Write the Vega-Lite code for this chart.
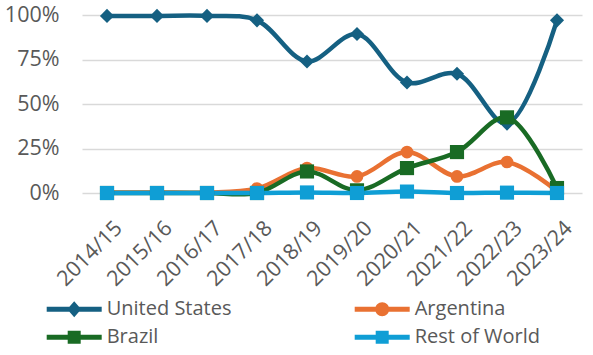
{
  "$schema": "https://vega.github.io/schema/vega-lite/v6.json",
  "autosize": {"type": "none"},
  "padding": {"left": 82, "top": 15, "right": 11, "bottom": 162},
  "width": 500,
  "height": 178,
  "background": "white",
  "config": {
    "view": {"stroke": null},
    "font": "Open Sans"
  },
  "data": {
    "values": [
      {"year": "2014/15", "series": "United States", "share": 0.995},
      {"year": "2015/16", "series": "United States", "share": 0.995},
      {"year": "2016/17", "series": "United States", "share": 0.995},
      {"year": "2017/18", "series": "United States", "share": 0.97},
      {"year": "2018/19", "series": "United States", "share": 0.739},
      {"year": "2019/20", "series": "United States", "share": 0.893},
      {"year": "2020/21", "series": "United States", "share": 0.621},
      {"year": "2021/22", "series": "United States", "share": 0.67},
      {"year": "2022/23", "series": "United States", "share": 0.39},
      {"year": "2023/24", "series": "United States", "share": 0.97},
      {"year": "2014/15", "series": "Argentina", "share": 0.003},
      {"year": "2015/16", "series": "Argentina", "share": 0.003},
      {"year": "2016/17", "series": "Argentina", "share": 0.003},
      {"year": "2017/18", "series": "Argentina", "share": 0.025},
      {"year": "2018/19", "series": "Argentina", "share": 0.14},
      {"year": "2019/20", "series": "Argentina", "share": 0.093},
      {"year": "2020/21", "series": "Argentina", "share": 0.23},
      {"year": "2021/22", "series": "Argentina", "share": 0.093},
      {"year": "2022/23", "series": "Argentina", "share": 0.174},
      {"year": "2023/24", "series": "Argentina", "share": 0.01},
      {"year": "2014/15", "series": "Brazil", "share": 0.0},
      {"year": "2015/16", "series": "Brazil", "share": 0.0},
      {"year": "2016/17", "series": "Brazil", "share": 0.0},
      {"year": "2017/18", "series": "Brazil", "share": 0.0},
      {"year": "2018/19", "series": "Brazil", "share": 0.121},
      {"year": "2019/20", "series": "Brazil", "share": 0.015},
      {"year": "2020/21", "series": "Brazil", "share": 0.14},
      {"year": "2021/22", "series": "Brazil", "share": 0.23},
      {"year": "2022/23", "series": "Brazil", "share": 0.425},
      {"year": "2023/24", "series": "Brazil", "share": 0.028},
      {"year": "2014/15", "series": "Rest of World", "share": 0.0},
      {"year": "2015/16", "series": "Rest of World", "share": 0.0},
      {"year": "2016/17", "series": "Rest of World", "share": 0.0},
      {"year": "2017/18", "series": "Rest of World", "share": 0.0},
      {"year": "2018/19", "series": "Rest of World", "share": 0.003},
      {"year": "2019/20", "series": "Rest of World", "share": 0.0},
      {"year": "2020/21", "series": "Rest of World", "share": 0.008},
      {"year": "2021/22", "series": "Rest of World", "share": 0.0},
      {"year": "2022/23", "series": "Rest of World", "share": 0.002},
      {"year": "2023/24", "series": "Rest of World", "share": 0.0}
    ]
  },
  "encoding": {
    "x": {
      "field": "year",
      "type": "ordinal",
      "sort": null,
      "scale": {"type": "point", "padding": 0.5},
      "axis": {
        "title": null,
        "labelAngle": -45,
        "labelAlign": "right",
        "labelBaseline": "top",
        "labelFontSize": 21.5,
        "labelColor": "#595959",
        "labelPadding": 24,
        "labelOffset": 4,
        "ticks": false,
        "domain": false,
        "grid": false
      }
    },
    "y": {
      "field": "share",
      "type": "quantitative",
      "scale": {"domain": [0, 1], "nice": false},
      "axis": {
        "title": null,
        "values": [0, 0.25, 0.5, 0.75, 1],
        "format": ".0%",
        "labelFontSize": 21.5,
        "labelColor": "#595959",
        "labelPadding": 23,
        "ticks": false,
        "domain": false,
        "grid": true,
        "gridColor": "#d9d9d9",
        "gridWidth": 1.5
      }
    },
    "color": {
      "field": "series",
      "type": "nominal",
      "sort": ["United States", "Brazil", "Argentina", "Rest of World"],
      "scale": {
        "domain": ["United States", "Brazil", "Argentina", "Rest of World"],
        "range": ["#156082", "#196B24", "#E97132", "#0F9ED5"]
      },
      "legend": {
        "orient": "none",
        "legendX": -35.3,
        "legendY": 284.2,
        "title": null,
        "columns": 2,
        "columnPadding": 123,
        "rowPadding": 8,
        "padding": 0,
        "symbolSize": 400,
        "labelFontSize": 20,
        "labelColor": "#595959",
        "labelOffset": 40,
        "encode": {
          "symbols": {
            "update": {
              "shape": {"signal": "datum.value === 'United States' ? 'M-1,-0.25L4.5,-0.25L4.5,0.25L-1,0.25Z M1.75,-0.8L2.45,0L1.75,0.8L1.05,0Z' : datum.value === 'Argentina' ? 'M-1,-0.25L4.5,-0.25L4.5,0.25L-1,0.25Z M2.45,0A0.7,0.7 0 1,1 1.05,0A0.7,0.7 0 1,1 2.45,0Z' : 'M-1,-0.25L4.5,-0.25L4.5,0.25L-1,0.25Z M1.1,-0.65L2.4,-0.65L2.4,0.65L1.1,0.65Z'"},
              "fill": {"scale": "color", "field": "value"},
              "stroke": {"value": "transparent"},
              "strokeWidth": {"value": 0},
              "opacity": {"value": 1}
            }
          }
        }
      }
    }
  },
  "layer": [
    {
      "mark": {"type": "line", "interpolate": "catmull-rom", "strokeWidth": 4.5, "strokeCap": "round", "strokeJoin": "round"}
    },
    {
      "transform": [{"filter": "datum.series === 'United States'"}],
      "mark": {"type": "point", "filled": true, "opacity": 1, "shape": "diamond", "size": 200}
    },
    {
      "transform": [{"filter": "datum.series === 'Argentina'"}],
      "mark": {"type": "point", "filled": true, "opacity": 1, "shape": "circle", "size": 160}
    },
    {
      "transform": [{"filter": "datum.series === 'Brazil'"}],
      "mark": {"type": "point", "filled": true, "opacity": 1, "shape": "square", "size": 200}
    },
    {
      "transform": [{"filter": "datum.series === 'Rest of World'"}],
      "mark": {"type": "point", "filled": true, "opacity": 1, "shape": "square", "size": 200}
    }
  ]
}
